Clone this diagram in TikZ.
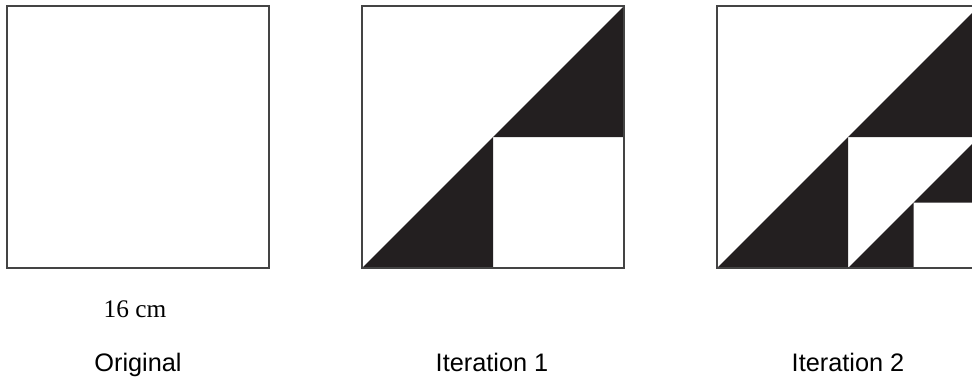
\documentclass[tikz,border=0pt]{standalone}
\usepackage{fontspec}
\setmainfont{Liberation Serif}
\setsansfont{Liberation Sans}
\usetikzlibrary{positioning}
\definecolor{inkblack}{RGB}{35,31,32}
\definecolor{framegray}{RGB}{68,68,68}

\begin{document}
\begin{tikzpicture}[x=0.025cm,y=-0.025cm,
    frame/.style={draw=framegray,line width=0.8pt},
    shade/.style={fill=inkblack},
    caption/.style={font=\sffamily\fontsize{18}{20}\selectfont,anchor=base,inner sep=0},
    sizelabel/.style={font=\fontsize{18}{20}\selectfont,anchor=base,inner sep=0}]
  \clip (0,0) rectangle (972,381);
  % original square
  \draw[frame] (7,6) rectangle (269,268);
  % iteration 1
  \fill[shade] (362,268) -- (493,268) -- (493,137) -- cycle;
  \fill[shade] (493,137) -- (624,137) -- (624,6) -- cycle;
  \draw[frame] (362,6) rectangle (624,268);
  % iteration 2 (cut at the right edge)
  \foreach \a/\b/\c/\m/\t in {717/848/979/137/6, 848/913.5/979/202.5/137}{
    \fill[shade] (\a,268) -- (\b,268) -- (\b,\m) -- cycle;
    \fill[shade] (\b,\m) -- (\c,\m) -- (\c,\t) -- cycle;
  }
  \draw[frame] (717,6) rectangle (979,268);
  % labels
  \node[sizelabel] (side) at (135,317) {16 cm};
  \node[caption] (orig) at (138,371) {Original};
  \node[caption] (iterone) at (492,371) {Iteration 1};
  \node[caption] (itertwo) at (848,371) {Iteration 2};
\end{tikzpicture}
\end{document}
